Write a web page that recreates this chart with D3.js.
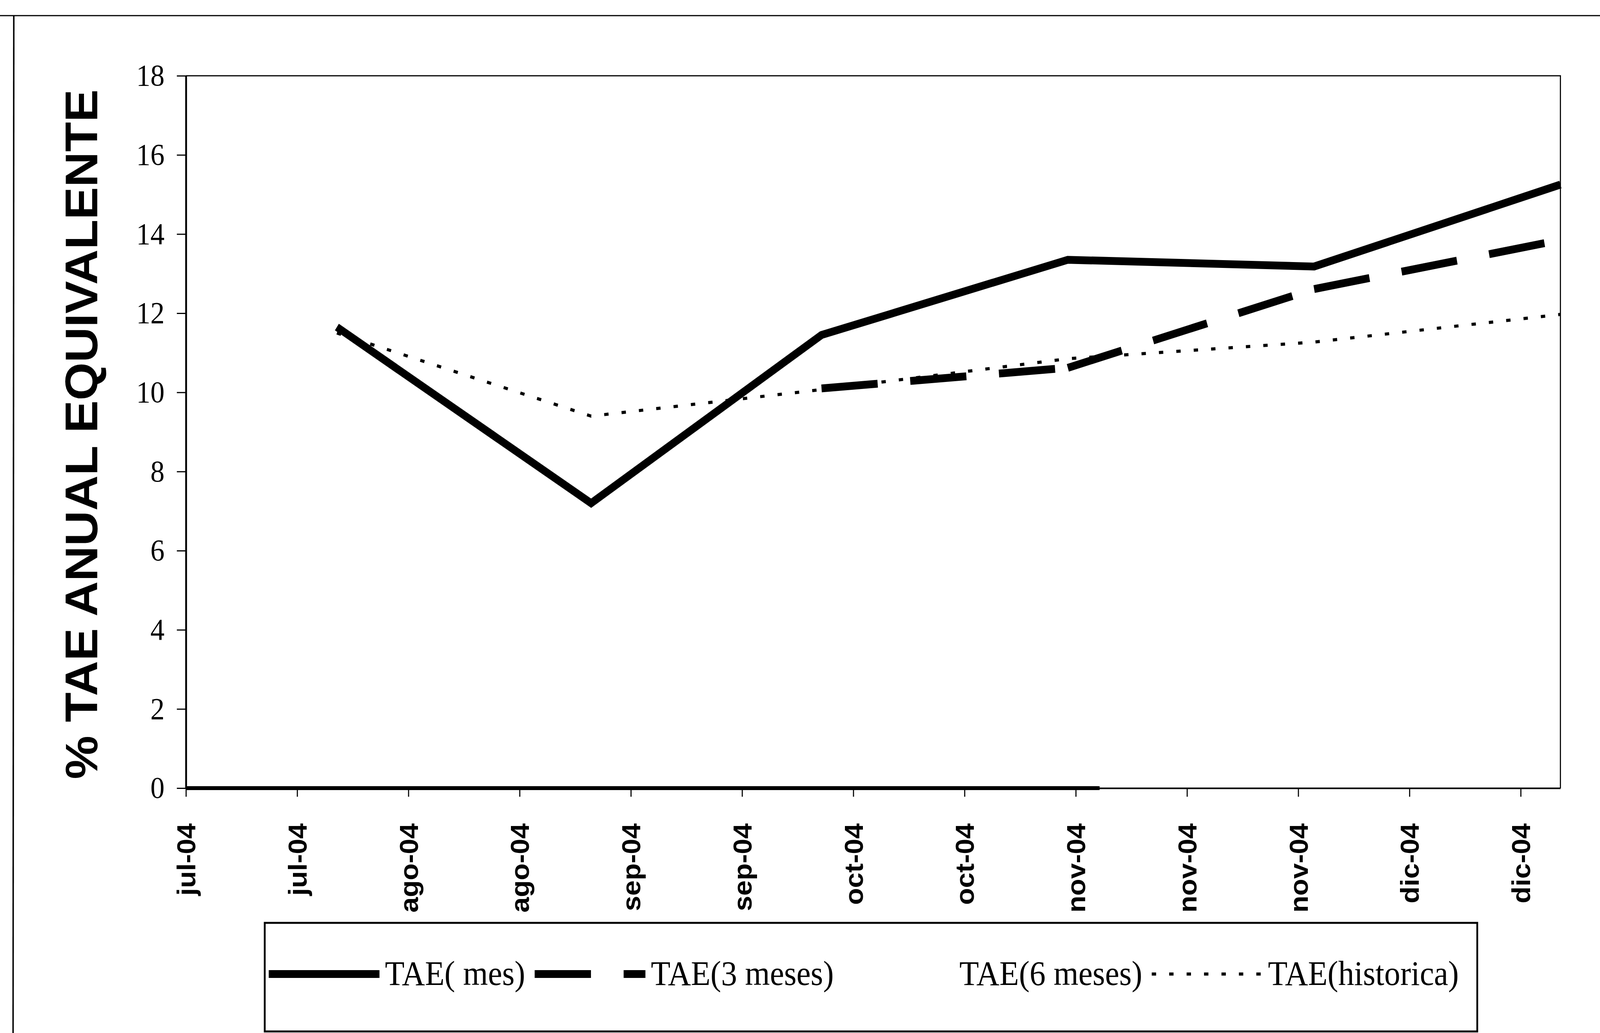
<!DOCTYPE html>
<html>
<head>
<meta charset="utf-8">
<script src="https://cdn.jsdelivr.net/npm/d3@7"></script>
<style>
  html, body { margin: 0; padding: 0; background: #fff; overflow: hidden; }
  svg { display: block; }
</style>
</head>
<body>
<svg></svg>
<script>
// data
const parseDate = d3.timeParse('%Y-%m-%d');
const pointDates = ['2004-08-01', '2004-09-02', '2004-10-01', '2004-11-01', '2004-12-02', '2005-01-02'];
const taeMes = [11.65, 7.2, 11.45, 13.35, 13.18, 15.25];
const tae3Meses = [null, null, 10.1, 10.62, 12.61, 13.85];
const taeHistorica = [11.5, 9.4, 10.07, 10.85, 11.27, 11.97];
// 6 meses series sits on the zero line
const tae6Dates = ['2004-07-13', '2004-11-05'];
const tae6Meses = [0, 0];

const axisStart = '2004-07-13';
const axisEnd = '2005-01-02';
const tickLabels = ['jul-04', 'jul-04', 'ago-04', 'ago-04', 'sep-04', 'sep-04', 'oct-04',
    'oct-04', 'nov-04', 'nov-04', 'nov-04', 'dic-04', 'dic-04'];
const yTicks = [0, 2, 4, 6, 8, 10, 12, 14, 16, 18];
const legendNames = ['TAE( mes)', 'TAE(3 meses)', 'TAE(6 meses)', 'TAE(historica)'];

const width = 4406;
const height = 2645;
const plot = { left: 512, right: 4297, top: 194, bottom: 2018 };

// drawn in a fixed 4406x2645 space, stretched to whatever the window is
const svg = d3.select('svg')
    .attr('viewBox', `0 0 ${width} ${height}`)
    .attr('preserveAspectRatio', 'none')
    .style('width', '100vw')
    .style('height', '100vh');

svg.append('rect')
    .attr('width', width)
    .attr('height', height)
    .attr('fill', '#fff');

// outer frame of the page (top and left only survive in the scan)
svg.append('line')
    .attr('x1', 0).attr('x2', width)
    .attr('y1', 40).attr('y2', 40)
    .attr('stroke', '#000').attr('stroke-width', 3);
svg.append('line')
    .attr('x1', 38).attr('x2', 36)
    .attr('y1', 40).attr('y2', height)
    .attr('stroke', '#000').attr('stroke-width', 4);

const x = d3.scaleTime()
    .domain([parseDate(axisStart), parseDate(axisEnd)])
    .range([plot.left, plot.right]);

const y = d3.scaleLinear()
    .domain([0, 18])
    .range([plot.bottom, plot.top]);

// plot box
svg.append('path')
    .attr('d', `M${plot.left},${plot.top}H${plot.right}V${plot.bottom}`)
    .attr('fill', 'none')
    .attr('stroke', '#000')
    .attr('stroke-width', 3);

const tickDates = d3.timeDay.range(parseDate(axisStart), parseDate(axisEnd), 14);

const xAxis = svg.append('g')
    .attr('transform', `translate(0,${plot.bottom})`)
    .call(d3.axisBottom(x)
        .tickValues(tickDates)
        .tickSize(22)
        .tickSizeOuter(0)
        .tickFormat((d, i) => tickLabels[i]));

xAxis.select('.domain').attr('stroke-width', 4);
xAxis.selectAll('line').attr('stroke-width', 3);
xAxis.selectAll('text')
    .attr('transform', 'rotate(-90)')
    .attr('x', -90)
    .attr('y', 0)
    .attr('dy', '0.36em')
    .attr('text-anchor', 'end')
    .attr('font-family', '"Liberation Sans", Arial, sans-serif')
    .attr('font-weight', 'bold')
    .attr('font-size', 71)
    .attr('fill', '#000');

const yAxis = svg.append('g')
    .attr('transform', `translate(${plot.left},0)`)
    .call(d3.axisLeft(y)
        .tickValues(yTicks)
        .tickSize(25)
        .tickSizeOuter(0)
        .tickPadding(34));

yAxis.select('.domain').attr('stroke-width', 5);
yAxis.selectAll('line').attr('stroke-width', 3);
yAxis.selectAll('text')
    .attr('font-family', '"Liberation Serif", "Times New Roman", serif')
    .attr('font-size', 78)
    .attr('fill', '#000');

svg.append('text')
    .attr('transform', `translate(268,1112) rotate(-90)`)
    .attr('text-anchor', 'middle')
    .attr('font-family', '"Liberation Sans", Arial, sans-serif')
    .attr('font-weight', 'bold')
    .attr('font-size', 125)
    .attr('fill', '#000')
    .text('% TAE ANUAL EQUIVALENTE');

const line = d3.line()
    .defined(d => d[1] != null)
    .x(d => x(d[0]))
    .y(d => y(d[1]));

const dates = pointDates.map(parseDate);
const zip = vals => vals.map((v, i) => [dates[i], v]);

// TAE(6 meses) on zero
svg.append('path')
    .attr('d', line(tae6Dates.map((d, i) => [parseDate(d), tae6Meses[i]])))
    .attr('fill', 'none')
    .attr('stroke', '#000')
    .attr('stroke-width', 10);

// TAE(historica) dotted
svg.append('path')
    .attr('d', line(zip(taeHistorica)))
    .attr('fill', 'none')
    .attr('stroke', '#000')
    .attr('stroke-width', 8)
    .attr('stroke-dasharray', '12 36');

// TAE(3 meses): dash pattern restarts at every point, like the original
const segs = d3.pairs(zip(tae3Meses)).filter(p => p[0][1] != null && p[1][1] != null);
svg.append('g').selectAll('path').data(segs)
    .enter().append('path')
    .attr('d', line)
    .attr('fill', 'none')
    .attr('stroke', '#000')
    .attr('stroke-width', 20)
    .attr('stroke-dasharray', '155 90');

// TAE(mes) solid
svg.append('path')
    .attr('d', line(zip(taeMes)))
    .attr('fill', 'none')
    .attr('stroke', '#000')
    .attr('stroke-width', 20)
    .attr('stroke-linejoin', 'miter');

// legend
svg.append('rect')
    .attr('x', 729).attr('y', 2363)
    .attr('width', 4068 - 729).attr('height', 2641 - 2363)
    .attr('fill', 'none')
    .attr('stroke', '#000')
    .attr('stroke-width', 5);

const legendStyles = [
    { width: 20, dash: null, visible: true },
    { width: 20, dash: '155 90', visible: true },
    { width: 20, dash: null, visible: false },
    { width: 8, dash: '12 36', visible: true }
];

const legendY = 2494;
let lx = 740;
legendNames.forEach((name, i) => {
    const st = legendStyles[i];
    if (st.visible) {
        svg.append('line')
            .attr('x1', lx).attr('x2', lx + 305)
            .attr('y1', legendY).attr('y2', legendY)
            .attr('stroke', '#000')
            .attr('stroke-width', st.width)
            .attr('stroke-dasharray', st.dash);
    }
    const t = svg.append('text')
        .attr('x', lx + 320)
        .attr('y', legendY + 28)
        .attr('font-family', '"Liberation Serif", "Times New Roman", serif')
        .attr('font-size', 88)
        .attr('fill', '#000')
        .text(name);
    lx += 320 + t.node().getComputedTextLength() + 26;
});
</script>
</body>
</html>
